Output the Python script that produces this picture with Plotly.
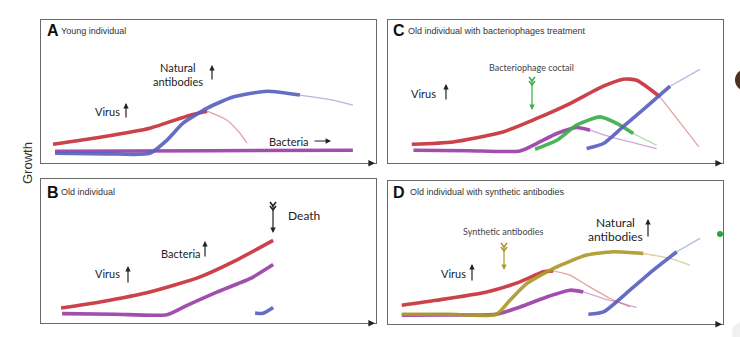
import plotly.graph_objects as go

# ---------------- data (time 0-100, growth 0-100 in each panel) ----------------
# Panel A: young individual
A_virus_x = [3.6, 17.6, 32.5, 44.5, 49.6, 55.5, 59.4, 61.5]
A_virus_y = [13.3, 18.2, 24.5, 33.6, 36.4, 30.1, 21.0, 14.0]
A_nab_x = [4.2, 20.0, 32.5, 37.6, 42.4, 49.6, 57.3, 67.5, 77.3, 87.2, 93.1]
A_nab_y = [7.0, 6.6, 7.0, 16.1, 28.0, 38.5, 46.2, 50.3, 47.6, 44.1, 40.6]
A_bact_x = [4.2, 50.0, 93.1]
A_bact_y = [8.4, 8.8, 9.1]

# Panel B: old individual
B_virus_x = [6.0, 17.6, 32.5, 47.5, 57.3, 69.3]
B_virus_y = [10.6, 14.8, 21.7, 32.2, 42.6, 57.6]
B_bact_x = [6.3, 22.0, 37.6, 43.6, 52.5, 62.4, 69.3]
B_bact_y = [6.7, 6.3, 6.0, 12.5, 21.7, 31.0, 40.8]
B_nab_x = [63.9, 66.3, 69.3]
B_nab_y = [7.2, 6.9, 10.9]

# Panel C: old individual with bacteriophages treatment
C_virus_x = [7.1, 19.4, 34.3, 44.4, 54.3, 64.3, 70.2, 74.2, 81.2, 86.6, 92.8]
C_virus_y = [13.3, 14.9, 21.9, 31.3, 41.7, 53.8, 58.7, 58.0, 46.4, 30.1, 11.4]
C_bact_x = [7.6, 24.0, 39.4, 44.4, 50.4, 56.3, 60.3, 66.3, 74.2, 80.2]
C_bact_y = [9.1, 8.8, 8.6, 13.8, 20.8, 25.0, 23.1, 18.4, 13.8, 10.3]
C_phage_x = [43.9, 50.4, 56.3, 63.3, 68.3, 73.2, 80.2]
C_phage_y = [9.8, 16.1, 26.6, 32.4, 27.8, 20.8, 12.6]
C_nab_x = [59.3, 64.3, 70.2, 77.2, 84.2, 93.1]
C_nab_y = [10.3, 13.8, 25.6, 39.6, 53.8, 65.5]

# Panel D: old individual with synthetic antibodies
D_virus_x = [4.1, 14.5, 29.5, 39.4, 46.4, 49.3, 54.3, 59.3, 66.3, 72.2]
D_virus_y = [13.3, 16.8, 22.6, 29.6, 36.6, 37.3, 34.3, 27.3, 18.0, 12.1]
D_syn_x = [4.1, 18.0, 32.4, 36.4, 41.4, 49.3, 59.3, 67.3, 76.2, 84.2, 90.1]
D_syn_y = [7.0, 7.0, 7.0, 16.8, 28.4, 38.9, 48.3, 50.6, 49.4, 46.0, 41.3]
D_bact_x = [4.1, 18.0, 32.4, 39.4, 47.4, 54.3, 58.3, 64.3, 70.2, 74.2]
D_bact_y = [6.3, 6.6, 7.0, 12.1, 19.1, 23.8, 22.6, 18.0, 14.5, 11.7]
D_nab_x = [59.8, 64.3, 72.2, 79.2, 86.2, 93.1]
D_nab_y = [7.0, 8.6, 23.8, 37.8, 50.6, 60.0]

panel_titles = ["Young individual", "Old individual with bacteriophages treatment",
                "Old individual", "Old individual with synthetic antibodies"]
panel_letters = ["A", "C", "B", "D"]

# ---------------- styling ----------------
W, H = 740, 337
RED, BLUE, PURPLE, GREEN, OLIVE = "#c8323c", "#5a62c0", "#9a40a8", "#3cae4a", "#ad9a2a"

def px(x):
    return x / W

def py(y):
    return 1 - y / H

# panel boxes in pixels: (left, top, right, bottom)
boxes = {
    1: (41, 20, 376, 163.3),     # A
    2: (388, 20, 723, 163.3),    # C
    3: (41, 179.3, 376, 323.3),  # B
    4: (388, 181, 723, 324.3),   # D
}

fig = go.Figure()

def add_series(ax, xs, ys, color, fade_from=None):
    xa = "x" if ax == 1 else f"x{ax}"
    ya = "y" if ax == 1 else f"y{ax}"
    if fade_from is None:
        solid_x, solid_y, fx, fy = xs, ys, [], []
    else:
        idx = [i for i, v in enumerate(xs) if v <= fade_from]
        k = idx[-1]
        solid_x, solid_y = xs[:k + 1], ys[:k + 1]
        fx, fy = xs[k:], ys[k:]
    fig.add_trace(go.Scatter(x=solid_x, y=solid_y, mode="lines", xaxis=xa, yaxis=ya,
                             line=dict(color=color, width=3.6, shape="spline", smoothing=0.6),
                             opacity=0.92, showlegend=False, hoverinfo="skip"))
    if fx:
        fig.add_trace(go.Scatter(x=fx, y=fy, mode="lines", xaxis=xa, yaxis=ya,
                                 line=dict(color=color, width=1.3, shape="spline", smoothing=0.6),
                                 opacity=0.45, showlegend=False, hoverinfo="skip"))

# Panel A
add_series(1, A_bact_x, A_bact_y, PURPLE)
add_series(1, A_virus_x, A_virus_y, RED, fade_from=49.6)
add_series(1, A_nab_x, A_nab_y, BLUE, fade_from=77.3)
# Panel C
add_series(2, C_bact_x, C_bact_y, PURPLE, fade_from=60.3)
add_series(2, C_phage_x, C_phage_y, GREEN, fade_from=73.2)
add_series(2, C_virus_x, C_virus_y, RED, fade_from=81.2)
add_series(2, C_nab_x, C_nab_y, BLUE, fade_from=84.2)
# Panel B
add_series(3, B_virus_x, B_virus_y, RED)
add_series(3, B_bact_x, B_bact_y, PURPLE)
add_series(3, B_nab_x, B_nab_y, BLUE)
# Panel D
add_series(4, D_bact_x, D_bact_y, PURPLE, fade_from=58.3)
add_series(4, D_virus_x, D_virus_y, RED, fade_from=49.3)
add_series(4, D_syn_x, D_syn_y, OLIVE, fade_from=76.2)
add_series(4, D_nab_x, D_nab_y, BLUE, fade_from=86.2)

layout = dict(width=W, height=H, autosize=False, margin=dict(l=0, r=0, t=0, b=0, pad=0),
              paper_bgcolor="white", plot_bgcolor="white", showlegend=False)
for i, (l, t, r, b) in boxes.items():
    sfx = "" if i == 1 else str(i)
    layout[f"xaxis{sfx}"] = dict(domain=[px(l), px(r)], range=[0, 100], showgrid=False,
                                 zeroline=False, showticklabels=False, ticks="",
                                 showline=True, mirror=True, linecolor="#6a6a6a", linewidth=1,
                                 anchor=f"y{sfx}", fixedrange=True)
    layout[f"yaxis{sfx}"] = dict(domain=[py(b), py(t)], range=[0, 100], showgrid=False,
                                 zeroline=False, showticklabels=False, ticks="",
                                 showline=True, mirror=True, linecolor="#6a6a6a", linewidth=1,
                                 anchor=f"x{sfx}", fixedrange=True)
fig.update_layout(**layout)

ann = []
shapes = []

def text(x, y, s, size=11, family="Lato, Open Sans, sans-serif", color="#222", xanchor="center", bold=False):
    if bold:
        s = f"<b>{s}</b>"
    ann.append(dict(x=px(x), y=py(y), xref="paper", yref="paper", text=s, showarrow=False,
                    xanchor=xanchor, yanchor="middle", font=dict(size=size, family=family, color=color)))

def arrow(hx, hy, tx, ty, color="#222", width=1.2, size=0.9):
    ann.append(dict(x=px(hx), y=py(hy), xref="paper", yref="paper", text="", showarrow=True,
                    ax=tx - hx, ay=ty - hy, axref="pixel", ayref="pixel",
                    arrowhead=2, arrowsize=size, arrowwidth=width, arrowcolor=color))

def fletch(x, ytop, color):
    for dy in (0, 4):
        path = (f"M {px(x-3)},{py(ytop+dy)} L {px(x)},{py(ytop+dy+4)} "
                f"L {px(x+3)},{py(ytop+dy)}")
        shapes.append(dict(type="path", path=path, xref="paper", yref="paper",
                           line=dict(color=color, width=1.6)))

# panel letters and titles
title_pos = {1: (45, 31, 59), 2: (391, 31, 406), 3: (45, 192, 59), 4: (391, 192, 408)}
order = [1, 2, 3, 4]
for i, letter, title in zip(order, panel_letters, panel_titles):
    lx, ly, tx = title_pos[i]
    text(lx, ly, letter, size=16, family="Liberation Sans, Arial, sans-serif", color="#111",
         xanchor="left", bold=True)
    text(tx, ly, title, size=9, family="Liberation Sans, Arial, sans-serif", color="#333",
         xanchor="left")

# Panel A labels
text(178, 68, "Natural")
text(178, 82, "antibodies")
arrow(212, 65, 212, 81)
text(107, 112, "Virus")
arrow(126, 103, 126, 119)
text(289, 141, "Bacteria")
arrow(331, 141, 313, 141)

# Panel B labels
text(181, 253, "Bacteria")
arrow(205, 241, 205, 258)
text(107, 273, "Virus")
arrow(128, 266, 128, 284)
text(304, 215, "Death", size=12)
arrow(273, 233, 273, 203)
fletch(273, 202, "#222")

# Panel C labels
text(531, 67, "Bacteriophage coctail", size=9, color="#444")
arrow(532, 110, 532, 78, color=GREEN)
fletch(532, 77, GREEN)
text(423, 93, "Virus")
arrow(446, 84, 446, 101)

# Panel D labels
text(503, 231, "Synthetic antibodies", size=9, color="#444")
arrow(504, 270, 504, 244, color=OLIVE)
fletch(504, 243, OLIVE)
text(615, 222, "Natural", size=12)
text(615, 236, "antibodies", size=12)
arrow(648, 219, 648, 238)
text(453, 273, "Virus")
arrow(472, 264, 472, 282)

# axis arrowheads at bottom right of each box
for i, (l, t, r, b) in boxes.items():
    arrow(r - 1, b, r - 8, b, color="#222", width=1.2, size=1.1)

# y title
ann.append(dict(x=px(28), y=py(163), xref="paper", yref="paper", text="Growth", showarrow=False,
                textangle=-90, xanchor="center", yanchor="middle",
                font=dict(size=13, family="Liberation Sans, Arial, sans-serif", color="#333")))

# cropped decorations at the right edge
shapes.append(dict(type="circle", xref="paper", yref="paper", x0=px(717), x1=px(723),
                   y0=py(237), y1=py(231), fillcolor="#22a83a", line=dict(width=0)))
shapes.append(dict(type="circle", xref="paper", yref="paper", x0=px(735), x1=px(757),
                   y0=py(91), y1=py(69), fillcolor="#4a3222", line=dict(width=0)))
shapes.append(dict(type="circle", xref="paper", yref="paper", x0=px(732), x1=px(756),
                   y0=py(345), y1=py(321), fillcolor="#f0f0f0", line=dict(width=0)))

fig.update_layout(annotations=ann, shapes=shapes)
fig.write_html("out.html", config={"responsive": False})
